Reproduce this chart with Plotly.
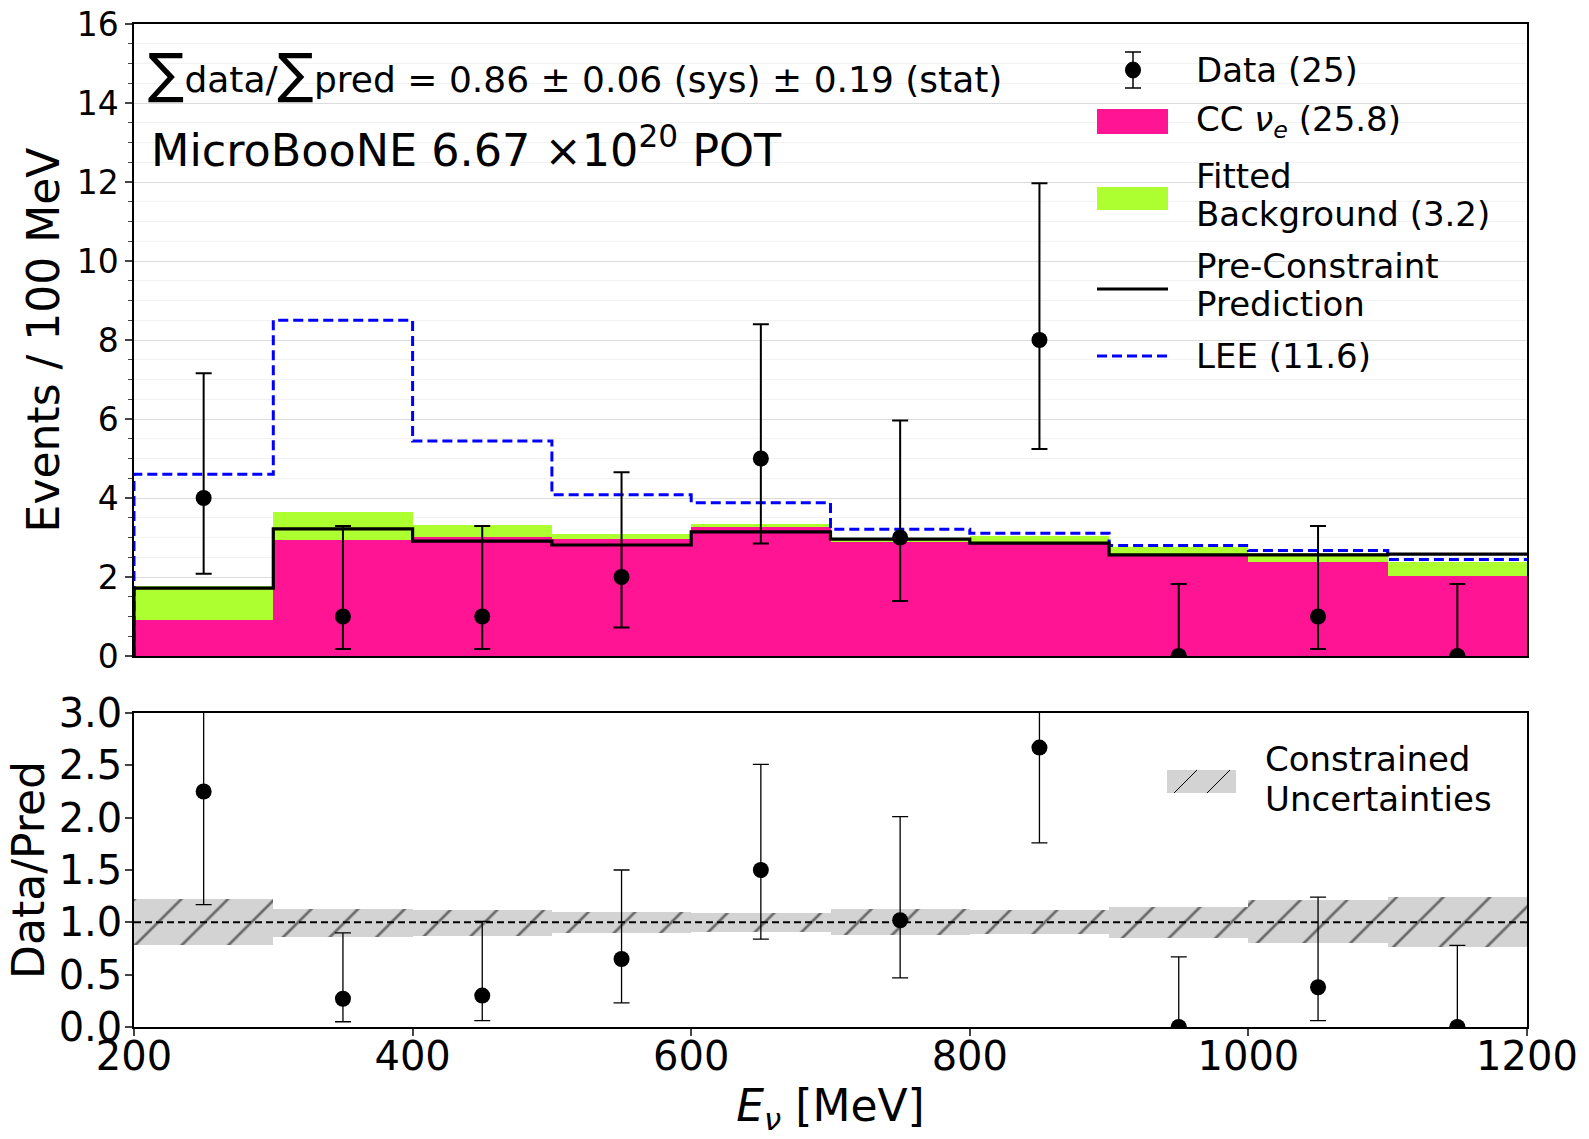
import plotly.graph_objects as go
from plotly.subplots import make_subplots

# ---------------- data ----------------
bin_centers = [250, 350, 450, 550, 650, 750, 850, 950, 1050, 1150]
bin_edges = [200, 300, 400, 500, 600, 700, 800, 900, 1000, 1100, 1200]
cc_nue = [0.90, 2.93, 3.02, 2.97, 3.27, 2.90, 2.86, 2.54, 2.39, 2.02]
fitted_total = [1.76, 3.65, 3.32, 3.08, 3.34, 2.94, 3.03, 2.75, 2.62, 2.37]
pre_constraint = [1.72, 3.22, 2.91, 2.81, 3.14, 2.96, 2.86, 2.56, 2.56, 2.58]
lee = [4.60, 8.50, 5.44, 4.08, 3.88, 3.21, 3.11, 2.80, 2.67, 2.44]
data = [4, 1, 1, 2, 5, 3, 8, 0, 1, 0]
data_lo = [2.08, 0.18, 0.18, 0.72, 2.85, 1.39, 5.24, 0.0, 0.18, 0.0]
data_hi = [7.16, 3.29, 3.29, 4.65, 8.40, 5.96, 11.97, 1.82, 3.29, 1.82]

ratio = [2.25, 0.27, 0.30, 0.65, 1.50, 1.02, 2.67, 0.0, 0.38, 0.0]
ratio_lo = [1.17, 0.05, 0.06, 0.23, 0.84, 0.47, 1.76, 0.0, 0.06, 0.0]
ratio_hi = [4.07, 0.90, 1.01, 1.50, 2.51, 2.01, 3.95, 0.67, 1.24, 0.78]
band_lo = [0.78, 0.86, 0.87, 0.90, 0.91, 0.88, 0.89, 0.85, 0.80, 0.76]
band_hi = [1.22, 1.13, 1.12, 1.10, 1.09, 1.13, 1.12, 1.15, 1.21, 1.24]

y_ticks_top = [0, 2, 4, 6, 8, 10, 12, 14, 16]
y_ticks_bot = [0.0, 0.5, 1.0, 1.5, 2.0, 2.5, 3.0]
x_ticks = [200, 400, 600, 800, 1000, 1200]

# ---------------- figure geometry ----------------
W, H = 1589, 1139
ML, MR, MT, MB = 134, 62, 24, 112
PW, PH = W - ML - MR, H - MT - MB
FONT = "DejaVu Sans"
PINK = "#FF1493"
GREEN = "#ADFF2F"
GREY = "#D3D3D3"


def px(xp):
    return (xp - ML) / PW


def py(yp):
    return (H - MB - yp) / PH


fig = make_subplots(rows=2, cols=1, shared_xaxes=False, vertical_spacing=0.0)

bg = [t - c for t, c in zip(fitted_total, cc_nue)]
fig.add_trace(go.Bar(x=bin_centers, y=cc_nue, base=[0] * len(cc_nue), width=100,
                     marker=dict(color=PINK, line=dict(width=0)), showlegend=False), row=1, col=1)
fig.add_trace(go.Bar(x=bin_centers, y=bg, base=cc_nue, width=100,
                     marker=dict(color=GREEN, line=dict(width=0)), showlegend=False), row=1, col=1)

# step lines (start at zero on left edge)
step_x = [bin_edges[0]] + bin_edges
pre_y = [0] + pre_constraint + [pre_constraint[-1]]
lee_y = [0] + lee + [lee[-1]]
fig.add_trace(go.Scatter(x=step_x, y=lee_y, mode="lines",
                         line=dict(color="blue", width=3, dash="10px,5px", shape="hv"),
                         showlegend=False), row=1, col=1)
fig.add_trace(go.Scatter(x=step_x, y=pre_y, mode="lines", line=dict(color="black", width=3.2, shape="hv"),
                         showlegend=False), row=1, col=1)

fig.add_trace(go.Scatter(
    x=bin_centers, y=data, mode="markers",
    marker=dict(color="black", size=16),
    error_y=dict(type="data", symmetric=False,
                 array=[h - d for h, d in zip(data_hi, data)],
                 arrayminus=[d - l for d, l in zip(data, data_lo)],
                 color="black", thickness=2, width=8),
    showlegend=False), row=1, col=1)

# bottom panel: uncertainty band
fig.add_trace(go.Bar(x=bin_centers, y=[h - l for h, l in zip(band_hi, band_lo)], base=band_lo, width=100,
                     marker=dict(color=GREY, line=dict(width=0),
                                 pattern=dict(shape="/", fgcolor="black", bgcolor=GREY, size=33,
                                              solidity=0.08, fillmode="overlay")),
                     showlegend=False), row=2, col=1)
fig.add_trace(go.Scatter(x=[bin_edges[0], bin_edges[-1]], y=[1, 1], mode="lines",
                         line=dict(color="black", width=2, dash="7px,4px"), showlegend=False), row=2, col=1)
fig.add_trace(go.Scatter(
    x=bin_centers, y=ratio, mode="markers",
    marker=dict(color="black", size=16),
    error_y=dict(type="data", symmetric=False,
                 array=[h - r for h, r in zip(ratio_hi, ratio)],
                 arrayminus=[r - l for r, l in zip(ratio, ratio_lo)],
                 color="black", thickness=1.3, width=8),
    showlegend=False), row=2, col=1)

top_dom = [(H - MB - 656) / PH, 1.0]
bot_dom = [0.0, (H - MB - 713) / PH]

fig.update_layout(
    width=W, height=H, margin=dict(l=ML, r=MR, t=MT, b=MB, autoexpand=False),
    paper_bgcolor="white", plot_bgcolor="white",
    barmode="overlay", bargap=0,
    font=dict(family=FONT, color="black"),
    showlegend=False,
)

fig.update_xaxes(range=[200, 1200], domain=[0, 1], showgrid=False, zeroline=False, automargin=False,
                 showline=True, linecolor="black", linewidth=1.5, mirror=True)
fig.update_xaxes(showticklabels=False, ticks="", row=1, col=1)
fig.update_xaxes(tickmode="array", tickvals=x_ticks, ticks="outside", ticklen=7, tickwidth=1.5,
                 tickfont=dict(size=40, family=FONT), ticklabelstandoff=-14,
                 title=dict(text="<i>E</i><sub><i>ν</i></sub> [MeV]", font=dict(size=44, family=FONT), standoff=12),
                 row=2, col=1)

fig.update_yaxes(automargin=False)
fig.update_yaxes(domain=top_dom, range=[0, 16], tickmode="array", tickvals=y_ticks_top,
                 ticks="outside", ticklen=7, tickwidth=1.5, tickfont=dict(size=33, family=FONT),
                 showline=True, linecolor="black", linewidth=1.5, mirror=True, zeroline=False,
                 showgrid=True, gridcolor="rgba(0,0,0,0.09)", gridwidth=1.2, layer="above traces",
                 minor=dict(dtick=0.5, ticks="outside", ticklen=4, tickwidth=1, showgrid=True,
                            gridcolor="rgba(0,0,0,0.05)", gridwidth=1),
                 title=dict(text="Events / 100 MeV", font=dict(size=44, family=FONT), standoff=3),
                 row=1, col=1)
fig.update_yaxes(domain=bot_dom, range=[0, 3], tickmode="array", tickvals=y_ticks_bot,
                 ticktext=[f"{v:.1f}" for v in y_ticks_bot],
                 ticks="outside", ticklen=7, tickwidth=1.5, tickfont=dict(size=40, family=FONT),
                 ticklabelstandoff=-5,
                 showline=True, linecolor="black", linewidth=1.5, mirror=True, zeroline=False, showgrid=False,
                 title=dict(text="Data/Pred", font=dict(size=44, family=FONT), standoff=0),
                 row=2, col=1)

# ---------------- text annotations ----------------
ann = []
ann.append(dict(x=px(146), y=py(74), xref="paper", yref="paper", xanchor="left", yanchor="middle",
                text="<span style='font-size:54px'>∑</span>data/<span style='font-size:54px'>∑</span>pred = 0.86 ± 0.06 (sys) ± 0.19 (stat)",
                showarrow=False, font=dict(size=36, family=FONT)))
ann.append(dict(x=px(149), y=py(147), xref="paper", yref="paper", xanchor="left", yanchor="middle",
                text="MicroBooNE 6.67 ×10<sup>20</sup> POT", showarrow=False, font=dict(size=44.5, family=FONT)))

leg_text_x = px(1194)
leg_lines = [("Data (25)", 70), ("CC <i>ν</i><sub><i>e</i></sub> (25.8)", 122), ("Fitted", 176),
             ("Background (3.2)", 214), ("Pre-Constraint", 266), ("Prediction", 304), ("LEE (11.6)", 356)]
for t, yy in leg_lines:
    ann.append(dict(x=leg_text_x, y=py(yy), xref="paper", yref="paper", xanchor="left", yanchor="middle",
                    text=t, showarrow=False, font=dict(size=34, family=FONT)))
for t, yy in [("Constrained", 759), ("Uncertainties", 799)]:
    ann.append(dict(x=px(1263), y=py(yy), xref="paper", yref="paper", xanchor="left", yanchor="middle",
                    text=t, showarrow=False, font=dict(size=34, family=FONT)))
fig.update_layout(annotations=ann)

# ---------------- legend glyphs ----------------
shapes = []
P = dict(xref="paper", yref="paper")
shapes.append(dict(type="line", x0=px(1133), x1=px(1133), y0=py(52), y1=py(88), line=dict(color="black", width=1.5), **P))
shapes.append(dict(type="line", x0=px(1125), x1=px(1141), y0=py(52), y1=py(52), line=dict(color="black", width=1.5), **P))
shapes.append(dict(type="line", x0=px(1125), x1=px(1141), y0=py(88), y1=py(88), line=dict(color="black", width=1.5), **P))
shapes.append(dict(type="circle", x0=px(1125.5), x1=px(1140.5), y0=py(78), y1=py(62), fillcolor="black",
                   line=dict(color="black", width=1), **P))
shapes.append(dict(type="rect", x0=px(1097), x1=px(1168), y0=py(134), y1=py(109), fillcolor=PINK, line=dict(width=0), **P))
shapes.append(dict(type="rect", x0=px(1097), x1=px(1168), y0=py(210), y1=py(187), fillcolor=GREEN, line=dict(width=0), **P))
shapes.append(dict(type="line", x0=px(1097), x1=px(1168), y0=py(289), y1=py(289), line=dict(color="black", width=3), **P))
shapes.append(dict(type="line", x0=px(1097), x1=px(1168), y0=py(356), y1=py(356),
                   line=dict(color="blue", width=3, dash="10px,5px"), **P))
shapes.append(dict(type="rect", x0=px(1167), x1=px(1236), y0=py(793), y1=py(770), fillcolor=GREY, line=dict(width=0), **P))
shapes.append(dict(type="line", x0=px(1174), x1=px(1197), y0=py(793), y1=py(770), line=dict(color="black", width=1), **P))
shapes.append(dict(type="line", x0=px(1207), x1=px(1230), y0=py(793), y1=py(770), line=dict(color="black", width=1), **P))
fig.update_layout(shapes=shapes)

fig.write_html("out.html", config={"displayModeBar": False},
               post_script="document.body.style.margin='0px';")
